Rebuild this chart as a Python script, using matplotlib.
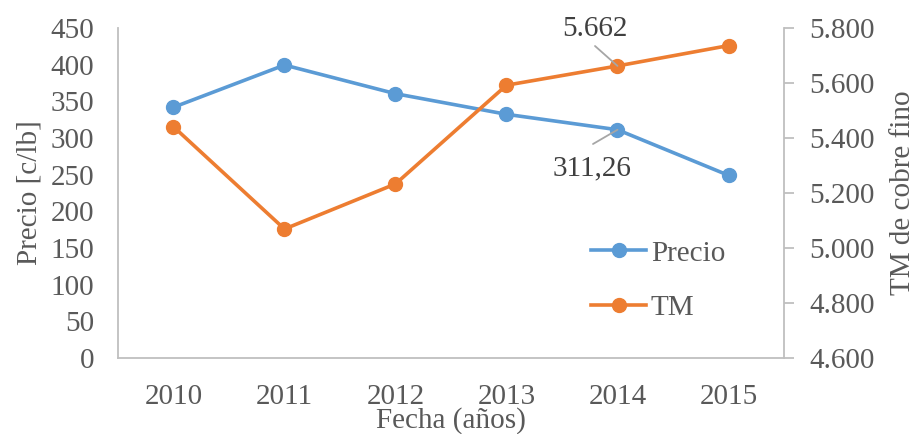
import matplotlib
matplotlib.use("Agg")
import matplotlib.pyplot as plt
from matplotlib.ticker import FuncFormatter, MultipleLocator

years = ["2010", "2011", "2012", "2013", "2014", "2015"]
precio = [341.9, 399.5, 360.4, 332.3, 311.26, 249.1]
tm = [5441, 5069, 5233, 5592, 5662, 5736]

blue = "#5B9BD5"
orange = "#ED7D31"
txt = "#595959"
dlab = "#404040"
grid = "#BFBFBF"
FS = 21

plt.rcParams["font.family"] = ["Liberation Serif", "DejaVu Serif"]
plt.rcParams["font.size"] = FS

fig = plt.figure(figsize=(9.16, 4.34), dpi=100)
ax = fig.add_axes([0.1288, 0.1751, 0.8559 - 0.1288, 0.9355 - 0.1751])
ax2 = ax.twinx()

x = list(range(len(years)))
l1, = ax.plot(x, precio, color=blue, lw=2.6, marker="o", ms=10, label="Precio", zorder=3)
l2, = ax2.plot(x, tm, color=orange, lw=2.6, marker="o", ms=10, label="TM", zorder=3)

ax.set_xlim(-0.5, len(years) - 0.5)
ax.set_ylim(0, 450)
ax.yaxis.set_major_locator(MultipleLocator(50))
ax2.set_ylim(4600, 5800)
ax2.yaxis.set_major_locator(MultipleLocator(200))
ax2.yaxis.set_major_formatter(FuncFormatter(lambda v, p: f"{int(round(v)):,}".replace(",", ".")))

ax.set_xticks(x)
ax.set_xticklabels(years)

for a in (ax, ax2):
    for s in a.spines.values():
        s.set_visible(False)
ax.spines["left"].set_visible(True)
ax.spines["bottom"].set_visible(True)
ax2.spines["right"].set_visible(True)
for s in (ax.spines["left"], ax.spines["bottom"], ax2.spines["right"]):
    s.set_color(grid)
    s.set_linewidth(1.3)

ax.tick_params(axis="y", length=0, pad=17, colors=txt, labelsize=FS)
ax.tick_params(axis="x", length=0, pad=19, colors=txt, labelsize=FS)
ax2.tick_params(axis="y", length=7, width=1.3, color=grid, pad=11, labelcolor=txt, labelsize=FS)

ax.set_ylabel("Precio [c/lb]", color=txt, fontsize=FS, labelpad=6)
ax.set_xlabel("Fecha (años)", color=txt, fontsize=FS, labelpad=-2.5)
ax2.set_ylabel("TM de cobre fino", color=txt, fontsize=FS, labelpad=11)

# data labels with leader lines
ax2.annotate("", xy=(4, tm[4]), xytext=(595, 434 - 46), textcoords="figure pixels",
             arrowprops=dict(arrowstyle="-", color="#A6A6A6", lw=1.3, shrinkA=0, shrinkB=0))
fig.text(595 / 916, (434 - 36) / 434, "5.662", ha="center", va="baseline", color=dlab, fontsize=FS)
ax.annotate("", xy=(4, precio[4]), xytext=(593, 434 - 144), textcoords="figure pixels",
            arrowprops=dict(arrowstyle="-", color="#A6A6A6", lw=1.3, shrinkA=0, shrinkB=0))
fig.text(592.5 / 916, (434 - 175) / 434, "311,26", ha="center", va="baseline", color=dlab, fontsize=FS)

leg = ax2.legend(handles=[l1, l2], loc="center left",
                 bbox_to_anchor=(591 / 916, (434 - 280.5) / 434), bbox_transform=fig.transFigure,
                 frameon=False, fontsize=FS, labelcolor=txt, handlelength=1.9,
                 handletextpad=0.15, labelspacing=0.95, borderaxespad=0, borderpad=0)

fig.savefig("out.png", dpi=100)
